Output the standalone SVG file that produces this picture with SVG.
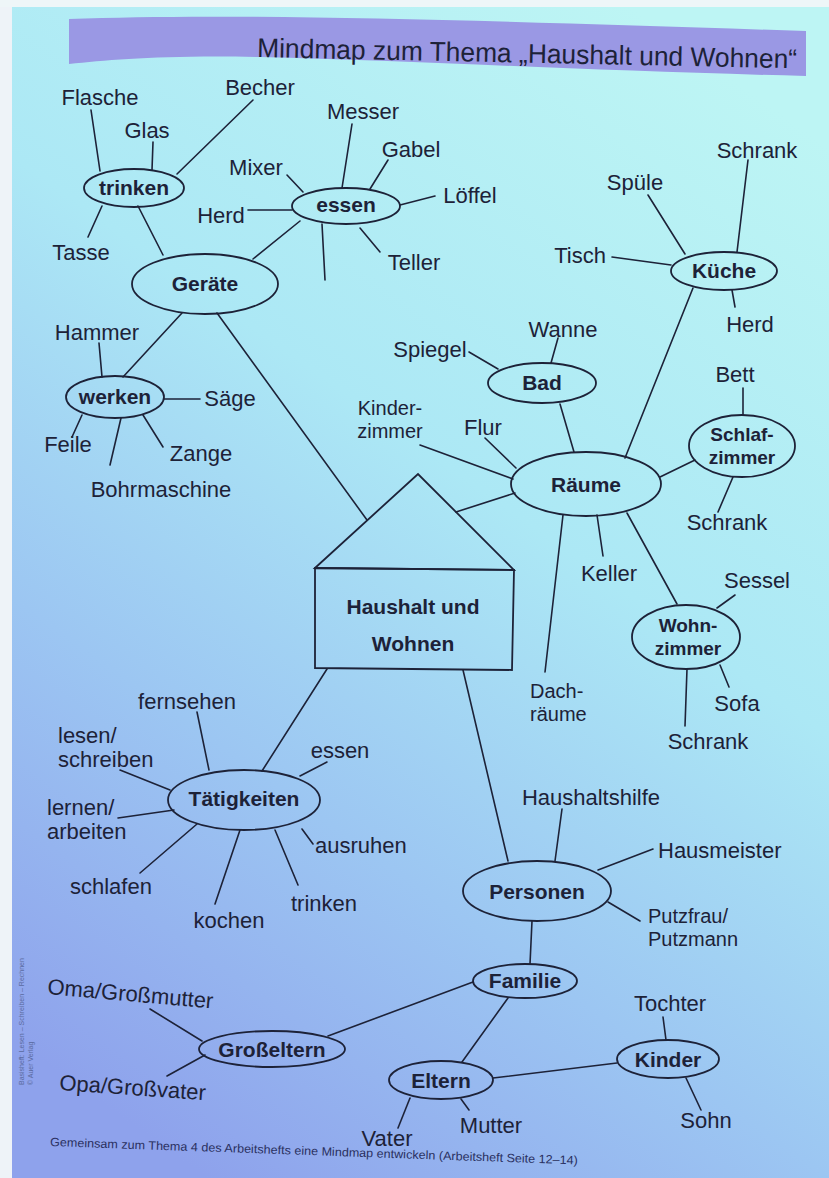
<svg xmlns="http://www.w3.org/2000/svg" width="829" height="1178" viewBox="0 0 829 1178">
<defs>
<linearGradient id="bg" x1="0.75" y1="0" x2="0.25" y2="1">
<stop offset="0" stop-color="#bdf5f4"/>
<stop offset="0.4" stop-color="#ace8f5"/>
<stop offset="0.7" stop-color="#9cc6f2"/>
<stop offset="1" stop-color="#8ea2ec"/>
</linearGradient>
<style>
.ln{stroke:#1d2238;stroke-width:1.6;fill:none;stroke-linecap:round}
.nd{stroke:#1d2238;stroke-width:1.8;fill:none}
.t{font-family:"Liberation Sans",Arial,sans-serif;font-size:22px;fill:#1d2238;text-anchor:middle}
.ts{font-family:"Liberation Sans",Arial,sans-serif;font-size:22px;fill:#1d2238}
.t2{font-family:"Liberation Sans",Arial,sans-serif;font-size:20px;fill:#1d2238}
.b{font-family:"Liberation Sans",Arial,sans-serif;font-size:21px;font-weight:bold;fill:#1d2238;text-anchor:middle}
.b2{font-family:"Liberation Sans",Arial,sans-serif;font-size:19px;font-weight:bold;fill:#1d2238;text-anchor:middle}
.ttl{font-family:"Liberation Sans",Arial,sans-serif;font-size:27px;fill:#1d2238}
</style>
</defs>
<rect width="829" height="1178" fill="url(#bg)"/>
<rect x="0" y="0" width="12" height="1178" fill="#eef3f8"/>
<rect x="0" y="0" width="829" height="7" fill="#eef6f8"/>

<g id="title">
<path d="M69,19 C250,12 520,22 806,31 L806,76 C600,71 420,61 260,57 C160,55 110,60 69,64 Z" fill="#9a98e4"/>
<text x="257" y="57" class="ttl" textLength="540" lengthAdjust="spacingAndGlyphs" transform="rotate(1.2 257 57)">Mindmap zum Thema „Haushalt und Wohnen“</text>
</g>

<g id="connectors">
<line class="ln" x1="91" y1="110" x2="100" y2="171"/>
<line class="ln" x1="153" y1="142" x2="152" y2="170"/>
<line class="ln" x1="253" y1="100" x2="177" y2="174"/>
<line class="ln" x1="102" y1="206" x2="88" y2="237"/>
<line class="ln" x1="138" y1="206" x2="163" y2="255"/>
<line class="ln" x1="253" y1="259" x2="300" y2="221"/>
<line class="ln" x1="287" y1="175" x2="303" y2="192"/>
<line class="ln" x1="248" y1="210" x2="292" y2="210"/>
<line class="ln" x1="352" y1="124" x2="342" y2="188"/>
<line class="ln" x1="388" y1="160" x2="370" y2="189"/>
<line class="ln" x1="400" y1="205" x2="435" y2="196"/>
<line class="ln" x1="360" y1="228" x2="380" y2="252"/>
<line class="ln" x1="322" y1="224" x2="325" y2="280"/>
<line class="ln" x1="182" y1="313" x2="123" y2="377"/>
<line class="ln" x1="217" y1="313" x2="367" y2="520"/>
<line class="ln" x1="99" y1="343" x2="102" y2="377"/>
<line class="ln" x1="164" y1="399" x2="200" y2="399"/>
<line class="ln" x1="82" y1="415" x2="72" y2="437"/>
<line class="ln" x1="121" y1="418" x2="110" y2="465"/>
<line class="ln" x1="143" y1="415" x2="163" y2="447"/>
<line class="ln" x1="748" y1="160" x2="737" y2="252"/>
<line class="ln" x1="648" y1="195" x2="685" y2="254"/>
<line class="ln" x1="612" y1="257" x2="671" y2="265"/>
<line class="ln" x1="732" y1="290" x2="735" y2="307"/>
<line class="ln" x1="693" y1="288" x2="625" y2="458"/>
<line class="ln" x1="558" y1="338" x2="551" y2="363"/>
<line class="ln" x1="469" y1="352" x2="498" y2="369"/>
<line class="ln" x1="560" y1="404" x2="574" y2="452"/>
<line class="ln" x1="420" y1="445" x2="513" y2="479"/>
<line class="ln" x1="485" y1="438" x2="516" y2="468"/>
<line class="ln" x1="515" y1="493" x2="456" y2="512"/>
<line class="ln" x1="660" y1="477" x2="695" y2="460"/>
<line class="ln" x1="743" y1="388" x2="743" y2="415"/>
<line class="ln" x1="733" y1="477" x2="718" y2="512"/>
<line class="ln" x1="563" y1="515" x2="545" y2="672"/>
<line class="ln" x1="597" y1="515" x2="603" y2="556"/>
<line class="ln" x1="627" y1="513" x2="677" y2="604"/>
<line class="ln" x1="735" y1="595" x2="717" y2="608"/>
<line class="ln" x1="720" y1="665" x2="729" y2="687"/>
<line class="ln" x1="687" y1="669" x2="685" y2="726"/>
<line class="ln" x1="463" y1="670" x2="508" y2="861"/>
<line class="ln" x1="562" y1="809" x2="555" y2="861"/>
<line class="ln" x1="653" y1="849" x2="598" y2="870"/>
<line class="ln" x1="608" y1="902" x2="640" y2="921"/>
<line class="ln" x1="532" y1="921" x2="530" y2="964"/>
<line class="ln" x1="473" y1="982" x2="328" y2="1036"/>
<line class="ln" x1="508" y1="998" x2="462" y2="1062"/>
<line class="ln" x1="493" y1="1078" x2="617" y2="1063"/>
<line class="ln" x1="663" y1="1017" x2="666" y2="1040"/>
<line class="ln" x1="686" y1="1078" x2="701" y2="1110"/>
<line class="ln" x1="461" y1="1099" x2="469" y2="1110"/>
<line class="ln" x1="410" y1="1098" x2="398" y2="1128"/>
<line class="ln" x1="150" y1="1009" x2="202" y2="1041"/>
<line class="ln" x1="167" y1="1076" x2="205" y2="1055"/>
<line class="ln" x1="327" y1="669" x2="262" y2="771"/>
<line class="ln" x1="197" y1="712" x2="209" y2="770"/>
<line class="ln" x1="120" y1="770" x2="170" y2="790"/>
<line class="ln" x1="327" y1="762" x2="300" y2="776"/>
<line class="ln" x1="118" y1="818" x2="174" y2="810"/>
<line class="ln" x1="140" y1="873" x2="197" y2="824"/>
<line class="ln" x1="240" y1="830" x2="215" y2="904"/>
<line class="ln" x1="275" y1="830" x2="298" y2="885"/>
<line class="ln" x1="302" y1="829" x2="313" y2="844"/>
</g>

<g id="house">
<path class="nd" d="M315,568 L418,474 L514,570 Z"/>
<path class="nd" d="M315,568 L514,570 L512,670 L315,668 Z"/>
<text class="b"><tspan x="413" y="614">Haushalt und</tspan><tspan x="413" y="651">Wohnen</tspan></text>
</g>

<g id="geraete"><ellipse class="nd" cx="205" cy="284" rx="73" ry="30"/><text class="b" x="205" y="291">Geräte</text></g>
<g id="trinken"><ellipse class="nd" cx="134" cy="188" rx="50" ry="19"/><text class="b" x="134" y="195">trinken</text></g>
<g id="essen"><ellipse class="nd" cx="346" cy="206" rx="54" ry="18"/><text class="b" x="346" y="212">essen</text></g>
<g id="werken"><ellipse class="nd" cx="115" cy="397" rx="49" ry="21"/><text class="b" x="115" y="404">werken</text></g>
<g id="kueche"><ellipse class="nd" cx="724" cy="271" rx="53" ry="19"/><text class="b" x="724" y="278">Küche</text></g>
<g id="bad"><ellipse class="nd" cx="542" cy="383" rx="54" ry="20"/><text class="b" x="542" y="390">Bad</text></g>
<g id="raeume"><ellipse class="nd" cx="586" cy="484" rx="75" ry="32"/><text class="b" x="586" y="492">Räume</text></g>
<g id="schlafzimmer"><ellipse class="nd" cx="742" cy="446" rx="53" ry="31"/><text class="b2"><tspan x="742" y="441">Schlaf-</tspan><tspan x="742" y="464">zimmer</tspan></text></g>
<g id="wohnzimmer"><ellipse class="nd" cx="686" cy="637" rx="54" ry="32"/><text class="b2"><tspan x="688" y="632">Wohn-</tspan><tspan x="688" y="655">zimmer</tspan></text></g>
<g id="taetigkeiten"><ellipse class="nd" cx="244" cy="800" rx="76" ry="30"/><text class="b" x="244" y="806">Tätigkeiten</text></g>
<g id="personen"><ellipse class="nd" cx="537" cy="891" rx="74" ry="30"/><text class="b" x="537" y="899">Personen</text></g>
<g id="familie"><ellipse class="nd" cx="525" cy="981" rx="52" ry="17"/><text class="b" x="525" y="988">Familie</text></g>
<g id="grosseltern"><ellipse class="nd" cx="272" cy="1049" rx="73" ry="18"/><text class="b" x="272" y="1057">Großeltern</text></g>
<g id="eltern"><ellipse class="nd" cx="441" cy="1080" rx="52" ry="19"/><text class="b" x="441" y="1088">Eltern</text></g>
<g id="kinder"><ellipse class="nd" cx="668" cy="1059" rx="51" ry="19"/><text class="b" x="668" y="1067">Kinder</text></g>

<g id="labels">
<text class="t" x="100" y="105">Flasche</text>
<text class="t" x="260" y="95">Becher</text>
<text class="t" x="147" y="138">Glas</text>
<text class="t" x="81" y="260">Tasse</text>
<text class="t" x="256" y="175">Mixer</text>
<text class="t" x="363" y="119">Messer</text>
<text class="t" x="411" y="157">Gabel</text>
<text class="t" x="221" y="223">Herd</text>
<text class="t" x="470" y="203">Löffel</text>
<text class="t" x="414" y="270">Teller</text>
<text class="t" x="97" y="340">Hammer</text>
<text class="t" x="230" y="406">Säge</text>
<text class="t" x="68" y="452">Feile</text>
<text class="t" x="201" y="461">Zange</text>
<text class="t" x="161" y="497">Bohrmaschine</text>
<text class="t" x="757" y="158">Schrank</text>
<text class="t" x="635" y="190">Spüle</text>
<text class="t" x="580" y="263">Tisch</text>
<text class="t" x="750" y="332">Herd</text>
<text class="t" x="563" y="337">Wanne</text>
<text class="t" x="430" y="357">Spiegel</text>
<text class="t2" text-anchor="middle"><tspan x="390" y="415">Kinder-</tspan><tspan x="390" y="438">zimmer</tspan></text>
<text class="t" x="483" y="435">Flur</text>
<text class="t" x="735" y="382">Bett</text>
<text class="t" x="727" y="530">Schrank</text>
<text class="t" x="609" y="581">Keller</text>
<text class="t" x="757" y="588">Sessel</text>
<text class="t2"><tspan x="530" y="698">Dach-</tspan><tspan x="530" y="721">räume</tspan></text>
<text class="t" x="737" y="711">Sofa</text>
<text class="t" x="708" y="749">Schrank</text>
<text class="t" x="591" y="805">Haushaltshilfe</text>
<text class="ts" x="658" y="858">Hausmeister</text>
<text class="t2"><tspan x="648" y="923">Putzfrau/</tspan><tspan x="648" y="946">Putzmann</tspan></text>
<text class="t" x="670" y="1011">Tochter</text>
<text class="t" x="706" y="1128">Sohn</text>
<text class="t" x="491" y="1133">Mutter</text>
<text class="t" x="387" y="1146">Vater</text>
<text class="t" x="187" y="709">fernsehen</text>
<text class="ts"><tspan x="58" y="743">lesen/</tspan><tspan x="58" y="767">schreiben</tspan></text>
<text class="t" x="340" y="758">essen</text>
<text class="ts"><tspan x="47" y="815">lernen/</tspan><tspan x="47" y="839">arbeiten</tspan></text>
<text class="ts" x="70" y="894">schlafen</text>
<text class="t" x="229" y="928">kochen</text>
<text class="t" x="324" y="911">trinken</text>
<text class="ts" x="315" y="853">ausruhen</text>
<text class="ts" x="47" y="994" transform="rotate(5 47 994)">Oma/Großmutter</text>
<text class="ts" x="59" y="1090" transform="rotate(4 59 1090)">Opa/Großvater</text>
</g>

<g id="footer">
<text x="50" y="1146" font-family="Liberation Sans, Arial, sans-serif" font-size="12" fill="#2a3060" textLength="528" lengthAdjust="spacingAndGlyphs" transform="rotate(2 50 1146)">Gemeinsam zum Thema 4 des Arbeitshefts eine Mindmap entwickeln (Arbeitsheft Seite 12–14)</text>
<g font-family="Liberation Sans, Arial, sans-serif" font-size="7" fill="#5a6aa0">
<text x="24" y="1085" transform="rotate(-90 24 1085)">Basisheft: Lesen – Schreiben – Rechnen</text>
<text x="33" y="1085" transform="rotate(-90 33 1085)">© Auer Verlag</text>
</g>
</g>
</svg>
